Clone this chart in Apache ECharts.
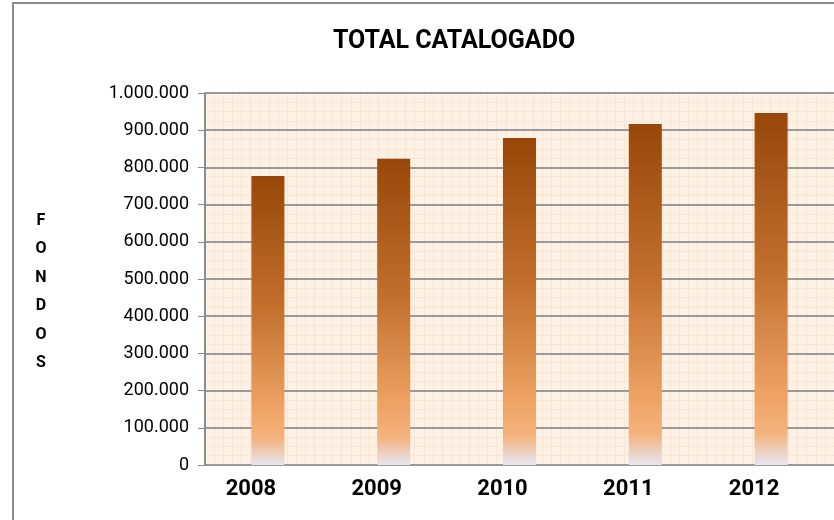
<!DOCTYPE html>
<html>
<head>
<meta charset="utf-8">
<script src="https://cdn.jsdelivr.net/npm/echarts@6/dist/echarts.min.js"></script>
<style>
  html, body { margin: 0; padding: 0; background: #fff; }
  #main { width: 834px; height: 520px; }
</style>
</head>
<body>
<div id="main"></div>
<script>
// datos
var years = ['2008', '2009', '2010', '2011', '2012'];
var fondos = [777000, 823000, 879000, 917000, 946000];
var yTicks = [0, 100000, 200000, 300000, 400000, 500000, 600000, 700000, 800000, 900000, 1000000];
var axisName = ['F', 'O', 'N', 'D', 'O', 'S'];

var fuente = 'Roboto, "Open Sans", sans-serif';

function puntos(v) {
  return String(v).replace(/\B(?=(\d{3})+(?!\d))/g, '.');
}

var myChart = echarts.init(document.getElementById('main'));

myChart.setOption({
  animation: false,
  backgroundColor: '#fff',
  textStyle: { fontFamily: fuente },
  grid: {
    left: 205,
    right: -13,
    top: 93,
    bottom: 55,
    show: true,
    backgroundColor: '#fef1e6',
    borderWidth: 0
  },
  graphic: [
    {
      type: 'rect',
      shape: { x: 13, y: 3, width: 900, height: 600 },
      style: { fill: 'none', stroke: '#8c8c8c', lineWidth: 2 },
      z: -10
    },
    {
      type: 'text',
      x: 454,
      y: 42,
      style: {
        text: 'TOTAL CATALOGADO',
        font: 'bold 25px ' + fuente,
        fill: '#000',
        align: 'center',
        verticalAlign: 'middle'
      }
    },
    {
      type: 'text',
      x: 41,
      y: 292,
      style: {
        text: axisName.join('\n'),
        font: 'bold 16px ' + fuente,
        fill: '#000',
        align: 'center',
        verticalAlign: 'middle',
        lineHeight: 28.4
      }
    }
  ],
  xAxis: [
    {
      type: 'category',
      data: years,
      axisLine: { lineStyle: { color: '#8c8c8c', width: 2 } },
      axisTick: { show: false },
      axisLabel: {
        color: '#000',
        fontWeight: 'bold',
        fontSize: 22,
        margin: 13,
        padding: [0, 34, 0, 0],
        fontFamily: fuente
      }
    },
    {
      // solo para el cuadriculado fino del fondo
      type: 'value',
      position: 'top',
      min: 0,
      max: 69,
      interval: 1,
      z: 0,
      axisLine: { show: false },
      axisTick: { show: false },
      axisLabel: { show: false },
      splitLine: { show: true, lineStyle: { color: '#fce4d2', width: 1 } }
    }
  ],
  yAxis: {
    type: 'value',
    min: 0,
    max: 1000000,
    interval: 100000,
    z: 1,
    axisLine: { show: true, lineStyle: { color: '#8c8c8c', width: 2 } },
    axisTick: { show: true, length: 7, lineStyle: { color: '#8c8c8c', width: 1 } },
    axisLabel: {
      color: '#000',
      fontSize: 18,
      margin: 16,
      fontFamily: fuente,
      formatter: function (v) { return puntos(v); }
    },
    splitLine: { lineStyle: { color: '#9a9a9a', width: 2 } },
    minorTick: { show: false, splitNumber: 4 },
    minorSplitLine: { show: true, lineStyle: { color: '#fce4d2', width: 1 } }
  },
  series: [
    {
      name: 'Fondos',
      type: 'bar',
      data: fondos,
      barWidth: 33,
      xAxisIndex: 0,
      z: 4,
      itemStyle: {
        color: new echarts.graphic.LinearGradient(0, 0, 0, 1, [
          { offset: 0, color: '#984709' },
          { offset: 0.45, color: '#c26f2e' },
          { offset: 0.8, color: '#eea263' },
          { offset: 0.91, color: '#f4b37d' },
          { offset: 1, color: '#e6e6f2' }
        ])
      }
    }
  ]
});
</script>
</body>
</html>
